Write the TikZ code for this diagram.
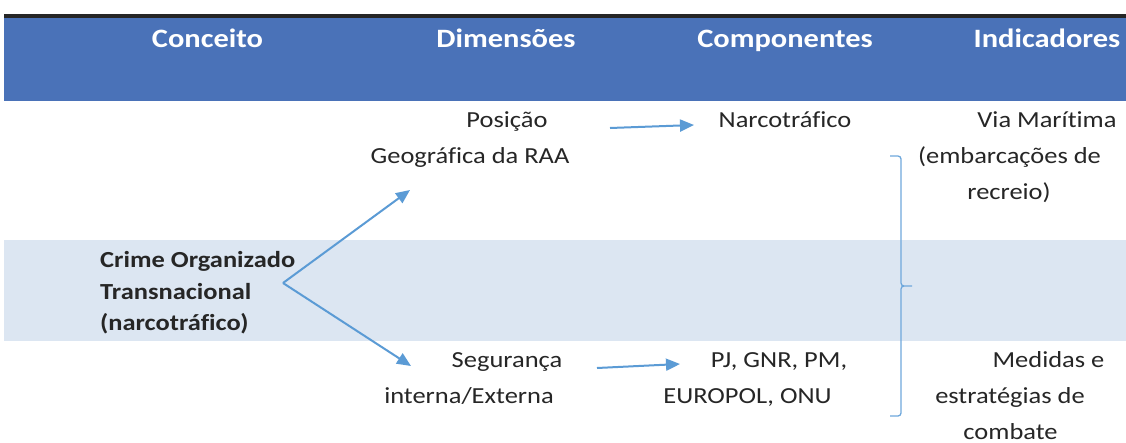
\documentclass[tikz,border=0pt]{standalone}
\usepackage{fontspec}
\setmainfont{Carlito}[FakeStretch=1.15,Ligatures=NoCommon]
\usetikzlibrary{arrows.meta}
\definecolor{hdr}{HTML}{4A72B8}
\definecolor{band}{HTML}{DCE6F2}
\definecolor{arr}{HTML}{5B9BD5}
\definecolor{brk}{HTML}{6FA8DC}
\definecolor{txt}{HTML}{262626}
\tikzset{
  hd/.style={font=\fontsize{26.5}{30}\selectfont\bfseries, text=white, inner sep=0pt, anchor=base},
  tx/.style={font=\fontsize{23}{27}\selectfont, text=txt, inner sep=0pt, anchor=base},
  bx/.style={font=\fontsize{23}{27}\selectfont\bfseries, text=txt, inner sep=0pt, anchor=base west},
  conn/.style={draw=arr, line width=2pt, -{Triangle[length=14pt,width=12pt]}},
}
\begin{document}
\begin{tikzpicture}[x=1pt,y=-1pt]
\useasboundingbox (0,0) rectangle (1126,442);
\fill[white] (0,0) rectangle (1126,442);
\fill[black!85] (4,14) rectangle (1126,18);
\fill[hdr] (4,18) rectangle (1126,101);
\fill[band] (4,240) rectangle (1126,341);
% header
\node[hd] (h1) at (207.5,47) {Conceito};
\node[hd] (h2) at (506,47) {Dimensões};
\node[hd] (h3) at (785,47) {Componentes};
\node[hd] (h4) at (1047,47) {Indicadores};
% concept
\node[bx] (c1) at (100,267) {Crime Organizado};
\node[bx] (c2) at (100,299) {Transnacional};
\node[bx] (c3) at (100,330) {(narcotráfico)};
% dimensions
\node[tx] (d1) at (507,127) {Posição};
\node[tx] (d2) at (470,163) {Geográfica da RAA};
\node[tx] (d3) at (507,367) {Segurança};
\node[tx] (d4) at (469,403) {interna/Externa};
% components
\node[tx] (k1) at (785,127) {Narcotráfico};
\node[tx] (k2) at (779,367) {PJ, GNR, PM,};
\node[tx] (k3) at (747.5,403) {EUROPOL, ONU};
% indicators
\node[tx] (i1) at (1047,127) {Via Marítima};
\node[tx] (i2) at (1009.5,163) {(embarcações de};
\node[tx] (i3) at (1009,199) {recreio)};
\node[tx] (i4) at (1048.5,367) {Medidas e};
\node[tx] (i5) at (1010,403) {estratégias de};
\node[tx] (i6) at (1010.5,439) {combate};
% connectors
\coordinate (o) at (283,283);
\coordinate (up) at (410,190);
\coordinate (dn) at (411,366);
\coordinate (a1) at (610,128);
\coordinate (b1) at (694,125);
\coordinate (a2) at (597,368);
\coordinate (b2) at (680,364);
\draw[conn] (o) -- (up);
\draw[conn] (o) -- (dn);
\draw[conn] (a1) -- (b1);
\draw[conn] (a2) -- (b2);
% bracket
\coordinate (bt) at (890,156);
\coordinate (bb) at (890,416);
\coordinate (bm) at (912,286);
\draw[brk, line width=1.3pt] (bt) -- (898,156) to[out=0,in=90] (901,159) -- (901,283) to[out=-90,in=180] (904,286) -- (bm);
\draw[brk, line width=1.3pt] (bb) -- (898,416) to[out=0,in=-90] (901,413) -- (901,289) to[out=90,in=180] (904,286);
\end{tikzpicture}
\end{document}
